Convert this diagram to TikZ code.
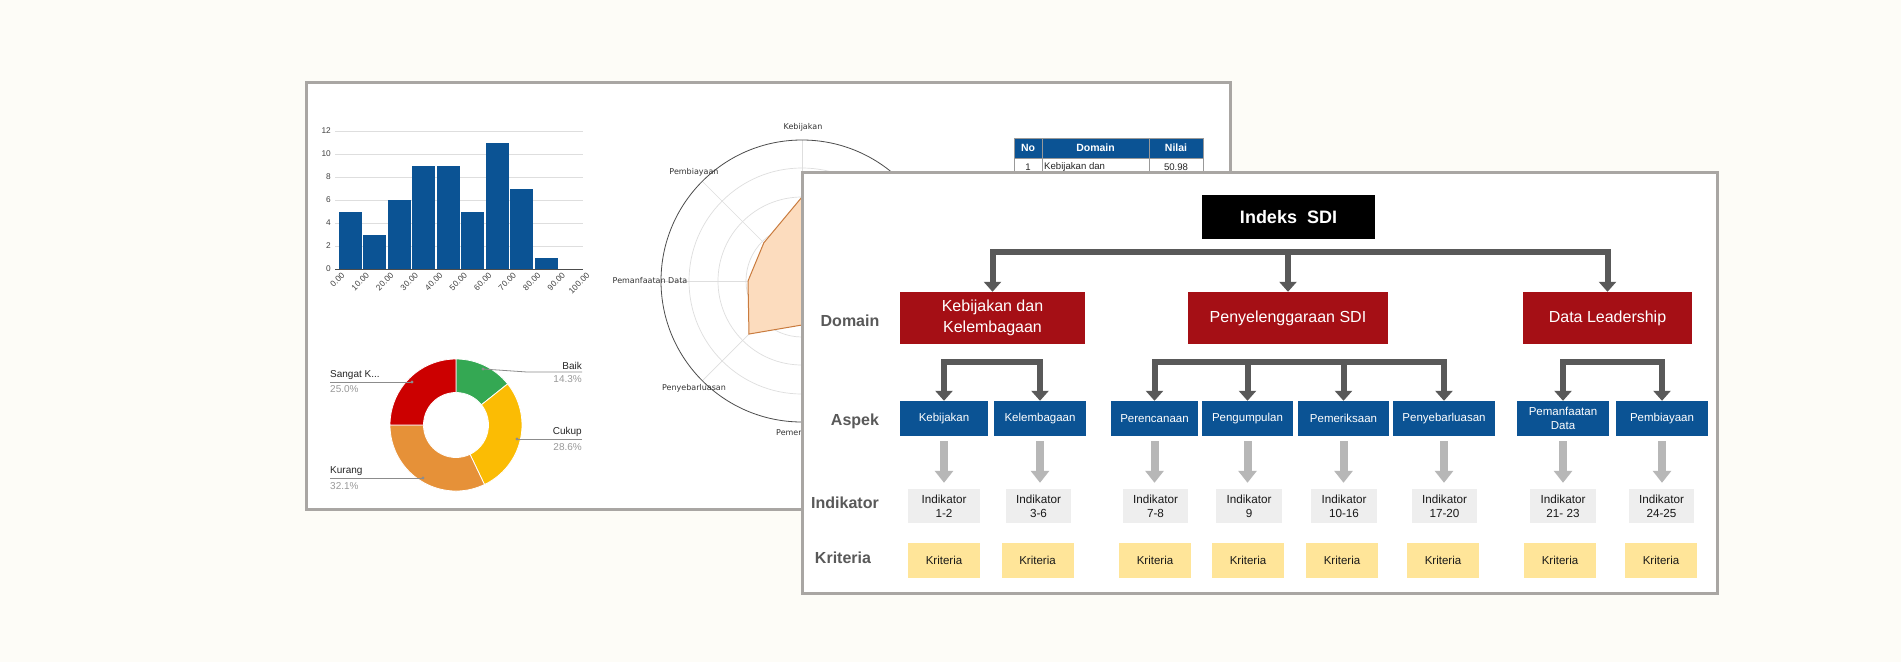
\documentclass[tikz,border=0pt]{standalone}
\usepackage{fontspec}
\setmainfont{Liberation Sans}
\newfontfamily\djv{DejaVu Sans}
\usetikzlibrary{arrows.meta,calc}
\definecolor{bgc}{HTML}{FDFCF7}
\definecolor{panelc}{HTML}{A9A6A3}
\definecolor{barblue}{HTML}{0B5394}
\definecolor{domred}{HTML}{A50F15}
\definecolor{arrdark}{HTML}{595959}
\definecolor{arrlight}{HTML}{B7B7B7}
\definecolor{indgray}{HTML}{EEEEEE}
\definecolor{kriy}{HTML}{FFE599}
\definecolor{labgray}{HTML}{595959}
\definecolor{dgreen}{HTML}{34A853}
\definecolor{dyellow}{HTML}{FBBC04}
\definecolor{dorange}{HTML}{E69138}
\definecolor{dred}{HTML}{CC0000}
\definecolor{radfill}{HTML}{FCDCBE}
\definecolor{radline}{HTML}{C97B3E}
\tikzset{
  panel/.style={draw=panelc, line width=3pt, fill=white},
  gridl/.style={draw=black!13, line width=0.7pt},
  tick/.style={font=\fontsize{8.3}{9}\selectfont, text=black!75, inner sep=0pt},
  radlab/.style={font=\djv\fontsize{8}{9}\selectfont, text=black!80, inner sep=0pt},
  donlab/.style={font=\fontsize{10}{11}\selectfont, text=black!85, inner sep=0pt},
  donpct/.style={font=\fontsize{10}{11}\selectfont, text=black!40, inner sep=0pt},
  donline/.style={draw=black!45, line width=0.8pt},
  thead/.style={font=\bfseries\fontsize{10.5}{11}\selectfont, text=white, inner sep=0pt},
  tcell/.style={font=\fontsize{9.6}{10}\selectfont, text=black!85, inner sep=0pt},
  rowlab/.style={font=\bfseries\fontsize{16}{18}\selectfont, text=labgray, inner sep=0pt},
  topbox/.style={fill=black, text=white, inner sep=0pt, minimum width=173pt, minimum height=44pt, font=\bfseries\fontsize{18}{20}\selectfont},
  dom/.style={fill=domred, text=white, inner sep=0pt, minimum height=52pt, align=center, font=\fontsize{16}{21}\selectfont},
  asp/.style={fill=barblue, text=white, inner sep=0pt, minimum height=35pt, align=center, font=\fontsize{11.5}{14}\selectfont},
  indbox/.style={fill=indgray, text=black!90, inner sep=0pt, minimum height=34pt, align=center, font=\fontsize{11.7}{14}\selectfont},
  kribox/.style={fill=kriy, text=black!90, inner sep=0pt, minimum width=72pt, minimum height=35pt, font=\fontsize{11.5}{14}\selectfont},
  dk/.style={draw=arrdark, line width=6pt, -{Triangle[width=17pt,length=10pt]}},
  lt/.style={draw=arrlight, line width=8pt, -{Triangle[width=18pt,length=12pt]}, shorten <=5pt, shorten >=6pt}
}
\begin{document}
\begin{tikzpicture}[x=1pt,y=-1pt]
\useasboundingbox (0,0) rectangle (1901,662);
\fill[bgc] (0,0) rectangle (1901,662);

% ---------- back panel ----------
\draw[panel] (306,82) rectangle (1230,509);

% histogram
\foreach \k in {0,...,6} {
  \draw[gridl] (335,{269-23*\k}) -- (583,{269-23*\k});
  \pgfmathtruncatemacro{\lab}{2*\k}
  \node[tick, anchor=east] at (331,{269-23*\k}) {\lab};
}
\foreach \v [count=\i from 0] in {5,3,6,9,9,5,11,7,1,0} {
  \fill[barblue] ({338+24.5*\i+0.7},269) rectangle ({338+24.5*\i+23.8},{269-11.5*\v});
}
\draw[black!70, line width=0.8pt] (335,269) -- (583,269);
\foreach \l [count=\i from 0] in {0.00,10.00,20.00,30.00,40.00,50.00,60.00,70.00,80.00,90.00,100.00} {
  \node[tick, anchor=north east, rotate=45] at ({338+24.5*\i+3},272) {\l};
}

% donut
\begin{scope}[shift={(456,425)}]
  \fill[dgreen, draw=white, line width=0.8pt] (-90:66) arc[start angle=-90, end angle=-38.52, radius=66] -- (-38.52:32.5) arc[start angle=-38.52, end angle=-90, radius=32.5] -- cycle;
  \fill[dyellow, draw=white, line width=0.8pt] (-38.52:66) arc[start angle=-38.52, end angle=64.44, radius=66] -- (64.44:32.5) arc[start angle=64.44, end angle=-38.52, radius=32.5] -- cycle;
  \fill[dorange, draw=white, line width=0.8pt] (64.44:66) arc[start angle=64.44, end angle=180, radius=66] -- (180:32.5) arc[start angle=180, end angle=64.44, radius=32.5] -- cycle;
  \fill[dred, draw=white, line width=0.8pt] (180:66) arc[start angle=180, end angle=270, radius=66] -- (270:32.5) arc[start angle=270, end angle=180, radius=32.5] -- cycle;
\end{scope}
\coordinate (dS) at (412,382);
\coordinate (dB) at (483,369);
\coordinate (dC) at (517,439);
\coordinate (dK) at (423,478);
\draw[donline] (330,382) -- (dS);
\draw[donline] (dB) -- (527,372) -- (582,372);
\draw[donline] (dC) -- (582,439);
\draw[donline] (330,478) -- (dK);
\foreach \p in {dS,dB,dC,dK} \fill[black!45] (\p) circle[radius=1.6];
\node[donlab, anchor=south west] at (330,380) {Sangat K...};
\node[donpct, anchor=west] at (330,389) {25.0\%};
\node[donlab, anchor=south east] at (582,370) {Baik};
\node[donpct, anchor=east] at (582,379) {14.3\%};
\node[donlab, anchor=south east] at (582,437) {Cukup};
\node[donpct, anchor=east] at (582,447) {28.6\%};
\node[donlab, anchor=south west] at (330,476) {Kurang};
\node[donpct, anchor=west] at (330,486) {32.1\%};

% radar
\begin{scope}[shift={(802,281)}]
  \foreach \r in {28,56,84,113} \draw[gridl] (0,0) circle[radius=\r];
  \foreach \a in {0,45,...,315} \draw[gridl] (0,0) -- (\a:141);
  \draw[black!70, line width=0.8pt] (0,0) circle[radius=141];
  \filldraw[fill=radfill, draw=radline, line width=1pt] (-90:84) -- (-135:54) -- (180:54) -- (135:75) -- (90:44) -- (45:60) -- (0:70) -- (-45:75) -- cycle;
\end{scope}
\node[radlab] at (803,127) {Kebijakan};
\node[radlab] at (694,172) {Pembiayaan};
\node[radlab] at (650,281) {Pemanfaatan Data};
\node[radlab] at (694,388) {Penyebarluasan};
\node[radlab, anchor=west] at (776,433) {Pemeriksaan};

% table
\fill[barblue] (1014,138) rectangle (1203,158);
\draw[black!40, line width=0.8pt] (1014,138) rectangle (1203,180);
\draw[black!40, line width=0.8pt] (1014,158) -- (1203,158) (1042,138) -- (1042,180) (1149,138) -- (1149,180);
\node[thead] at (1028,148) {No};
\node[thead] at (1095.5,148) {Domain};
\node[thead] at (1176,148) {Nilai};
\node[tcell] at (1028,167) {1};
\node[tcell, anchor=west] at (1044,167) {Kebijakan dan};
\node[tcell] at (1176,167) {50.98};

% ---------- front panel ----------
\draw[panel] (802,172) rectangle (1717,593);

\node[topbox] (top) at (1288.5,217) {Indeks\ \ SDI};

\node[dom, minimum width=185pt] (d1) at (992.5,318) {Kebijakan dan\\Kelembagaan};
\node[dom, minimum width=200pt] (d2) at (1288,318) {Penyelenggaraan SDI};
\node[dom, minimum width=169pt] (d3) at (1607.5,318) {Data Leadership};

\node[asp, minimum width=88pt]  (a1) at (944,418.5) {Kebijakan};
\node[asp, minimum width=92pt]  (a2) at (1040,418.5) {Kelembagaan};
\node[asp, minimum width=87pt]  (a3) at (1154.5,418.5) {Perencanaan};
\node[asp, minimum width=91pt]  (a4) at (1247.5,418.5) {Pengumpulan};
\node[asp, minimum width=91pt]  (a5) at (1343.5,418.5) {Pemeriksaan};
\node[asp, minimum width=102pt] (a6) at (1444,418.5) {Penyebarluasan};
\node[asp, minimum width=92pt]  (a7) at (1563,418.5) {Pemanfaatan\\Data};
\node[asp, minimum width=92pt]  (a8) at (1662,418.5) {Pembiayaan};

\node[indbox, minimum width=72pt] (i1) at (944,506) {Indikator\\1-2};
\node[indbox, minimum width=65pt] (i2) at (1038.5,506) {Indikator\\3-6};
\node[indbox, minimum width=65pt] (i3) at (1155.5,506) {Indikator\\7-8};
\node[indbox, minimum width=66pt] (i4) at (1249,506) {Indikator\\9};
\node[indbox, minimum width=66pt] (i5) at (1344,506) {Indikator\\10-16};
\node[indbox, minimum width=65pt] (i6) at (1444.5,506) {Indikator\\17-20};
\node[indbox, minimum width=66pt] (i7) at (1563,506) {Indikator\\21- 23};
\node[indbox, minimum width=65pt] (i8) at (1661.5,506) {Indikator\\24-25};

\node[kribox] (k1) at (944,560.5) {Kriteria};
\node[kribox] (k2) at (1037.5,560.5) {Kriteria};
\node[kribox] (k3) at (1155,560.5) {Kriteria};
\node[kribox] (k4) at (1248,560.5) {Kriteria};
\node[kribox] (k5) at (1342,560.5) {Kriteria};
\node[kribox] (k6) at (1443,560.5) {Kriteria};
\node[kribox] (k7) at (1560,560.5) {Kriteria};
\node[kribox] (k8) at (1661,560.5) {Kriteria};

\node[rowlab] (lD) at (850,321) {Domain};
\node[rowlab] (lA) at (855,421) {Aspek};
\node[rowlab] (lI) at (845,503) {Indikator};
\node[rowlab] (lK) at (843,558) {Kriteria};

% dark connectors
\coordinate (bar) at (1288,252);
\draw[dk] (bar) -| (d1.north);
\draw[dk] (bar) -| (d3.north);
\draw[dk] (bar) -- (d2.north);

\coordinate (br1) at (993,362);
\coordinate (br2) at (1300,362);
\coordinate (br3) at (1613,362);
\foreach \a in {a1,a2} \draw[dk] (br1) -| (\a.north);
\foreach \a in {a3,a4,a5,a6} \draw[dk] (br2) -| (\a.north);
\foreach \a in {a7,a8} \draw[dk] (br3) -| (\a.north);

% light connectors
\foreach \n in {1,...,8} \draw[lt] (a\n.south) -- (a\n.south |- i\n.north);
\end{tikzpicture}
\end{document}
